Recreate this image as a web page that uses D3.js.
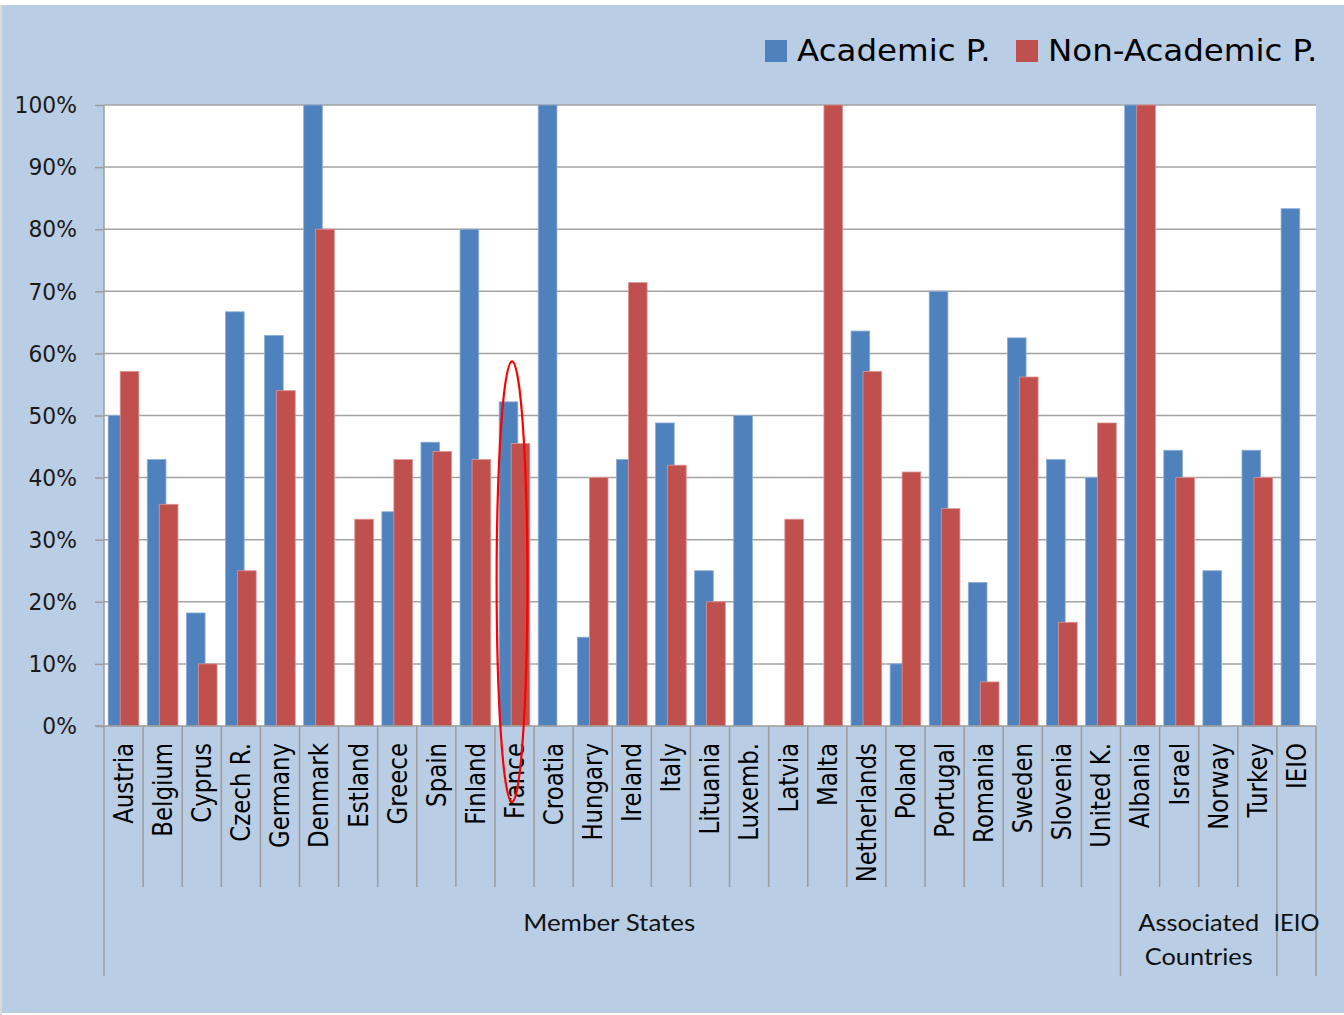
<!DOCTYPE html>
<html>
<head>
<meta charset="utf-8">
<script src="https://cdnjs.cloudflare.com/ajax/libs/d3/7.8.5/d3.min.js"></script>
<style>
  html, body { margin: 0; padding: 0; background: #ffffff; }
  svg { display: block; }
</style>
</head>
<body>
<svg id="chart" width="1344" height="1015"></svg>
<script>
// ---------- DATA ----------
const categories = ["Austria","Belgium","Cyprus","Czech R.","Germany","Denmark","Estland","Greece","Spain","Finland","France","Croatia","Hungary","Ireland","Italy","Lituania","Luxemb.","Latvia","Malta","Netherlands","Poland","Portugal","Romania","Sweden","Slovenia","United K.","Albania","Israel","Norway","Turkey","IEIO"];
const academic    = [50, 42.9, 18.2, 66.7, 62.9, 100, 0, 34.5, 45.7, 80, 52.2, 100, 14.3, 42.9, 48.8, 25, 50, 0, 0, 63.6, 10, 70, 23.1, 62.5, 42.9, 40, 100, 44.4, 25, 44.4, 83.3];
const nonAcademic = [57.1, 35.7, 10, 25, 54, 80, 33.3, 42.9, 44.2, 42.9, 45.5, 0, 40, 71.4, 42, 20, 0, 33.3, 100, 57.1, 40.9, 35, 7.1, 56.2, 16.7, 48.8, 100, 40, 0, 40, 0];
const seriesNames = ["Academic P.", "Non-Academic P."];
const groupLabels = [["Member States"], ["Associated", "Countries"], ["IEIO"]];
const groupSizes  = [26, 4, 1];
const tickValues  = [0, 10, 20, 30, 40, 50, 60, 70, 80, 90, 100];
const highlighted = "France";

// ---------- STYLE / LAYOUT ----------
const W = 1344, H = 1015;
const plot = { left: 104, right: 1316, top: 105, bottom: 726 };
const colors = { bg: "#B9CDE5", blue: "#4F81BD", red: "#C0504D", grid: "#A3A3A3", axis: "#9C9C9C" };
const FONT = "'DejaVu Sans', Verdana, sans-serif";
// rendered widths of the group label lines (text box fitting, like the original)
const groupLabelWidths = [[172], [121], [47]].map((w, i) => w);
const groupLineWidths = [[172], [121, 108], [46]];

const svg = d3.select("#chart");

// page frame
svg.append("rect").attr("x", 0).attr("y", 0).attr("width", W).attr("height", H).attr("fill", "#ffffff");
svg.append("rect").attr("x", 0).attr("y", 5).attr("width", 2).attr("height", H - 5).attr("fill", "#DADADA");
svg.append("rect").attr("x", 2).attr("y", 5).attr("width", W - 2).attr("height", H - 7).attr("fill", colors.bg);

// scales
const x = d3.scaleBand().domain(categories).range([plot.left, plot.right]).padding(0);
const y = d3.scaleLinear().domain([0, 100]).range([plot.bottom, plot.top]);
const bw = x.bandwidth();
const barW = bw * 0.478, offBlue = bw * 0.107, offRed = bw * (0.107 + 0.307);

// plot area
svg.append("rect").attr("x", plot.left).attr("y", plot.top)
  .attr("width", plot.right - plot.left).attr("height", plot.bottom - plot.top).attr("fill", "#ffffff");

// gridlines
svg.append("g").selectAll("line").data(tickValues.filter(t => t > 0)).join("line")
  .attr("x1", plot.left).attr("x2", plot.right)
  .attr("y1", d => y(d)).attr("y2", d => y(d))
  .attr("stroke", colors.grid).attr("stroke-width", 1.5);

// y axis via d3
const yAxis = d3.axisLeft(y).tickValues(tickValues).tickSize(9).tickFormat("");
const gy = svg.append("g").attr("transform", `translate(${plot.left},0)`).call(yAxis);
gy.select(".domain").remove();
gy.selectAll(".tick line").attr("stroke", colors.axis).attr("stroke-width", 1.5);

// y tick labels
svg.append("g").selectAll("text").data(tickValues).join("text")
  .attr("transform", d => `translate(77,${y(d)}) scale(0.95,1)`)
  .attr("dy", "0.36em").attr("text-anchor", "end")
  .attr("font-family", FONT).attr("font-size", 23).attr("fill", "#1a1a1a")
  .text(d => d3.format(".0%")(d / 100));

// bars
const rows = categories.map((c, i) => ({ c, a: academic[i], n: nonAcademic[i] }));
svg.append("g").selectAll("rect").data(rows.filter(r => r.a > 0)).join("rect")
  .attr("x", r => x(r.c) + offBlue).attr("width", barW)
  .attr("y", r => y(r.a)).attr("height", r => y(0) - y(r.a))
  .attr("fill", colors.blue).attr("stroke", "#8EADD6").attr("stroke-width", 0.8);
svg.append("g").selectAll("rect").data(rows.filter(r => r.n > 0)).join("rect")
  .attr("x", r => x(r.c) + offRed).attr("width", barW)
  .attr("y", r => y(r.n)).attr("height", r => y(0) - y(r.n))
  .attr("fill", colors.red).attr("stroke", "#DB9694").attr("stroke-width", 0.8);

// axes lines
svg.append("line").attr("x1", plot.left - 9).attr("x2", plot.right)
  .attr("y1", plot.bottom).attr("y2", plot.bottom).attr("stroke", colors.axis).attr("stroke-width", 1.5);

// category dividers (short) and group dividers (long)
const groupBounds = [0];
groupSizes.forEach((s, i) => groupBounds.push(groupBounds[i] + s));
const boundaryX = d3.range(categories.length + 1).map(i => plot.left + i * bw);
svg.append("g").selectAll("line").data(d3.range(categories.length + 1)).join("line")
  .attr("x1", i => boundaryX[i]).attr("x2", i => boundaryX[i])
  .attr("y1", i => (i === 0 ? plot.top : plot.bottom))
  .attr("y2", i => groupBounds.includes(i) ? 976 : 887)
  .attr("stroke", colors.axis).attr("stroke-width", 1.5);

// category labels (rotated)
svg.append("g").selectAll("text").data(categories).join("text")
  .attr("transform", c => `translate(${x(c) + bw / 2},743) scale(1,0.88) rotate(-90)`)
  .attr("dy", "0.36em").attr("text-anchor", "end")
  .attr("font-family", FONT).attr("font-size", 26).attr("fill", "#000")
  .text(c => c);

// group labels
const gl = svg.append("g");
groupLabels.forEach((lines, gi) => {
  const cx = (boundaryX[groupBounds[gi]] + boundaryX[groupBounds[gi + 1]]) / 2 - (gi === 0 ? 3 : 0);
  lines.forEach((t, li) => {
    gl.append("text").attr("x", cx).attr("y", 931 + li * 34)
      .attr("text-anchor", "middle").attr("font-family", "Lato, 'Open Sans', sans-serif")
      .attr("font-size", 24).attr("fill", "#111")
      .attr("textLength", groupLineWidths[gi][li]).attr("lengthAdjust", "spacingAndGlyphs")
      .text(t);
  });
});

// legend
const legendX = [765, 1016];
const legendColors = [colors.blue, colors.red];
const lg = svg.append("g");
seriesNames.forEach((s, i) => {
  lg.append("rect").attr("x", legendX[i]).attr("y", 40).attr("width", 22).attr("height", 22).attr("fill", legendColors[i]);
  lg.append("text").attr("transform", `translate(${legendX[i] + 32},61) scale(1.065,1)`)
    .attr("font-family", FONT).attr("font-size", 30.5).attr("fill", "#000").text(s);
});

// highlight ellipse around France
svg.append("ellipse")
  .attr("cx", x(highlighted) + bw / 2 - 2.5).attr("cy", (y(58.7) + 802) / 2)
  .attr("rx", 15.4).attr("ry", (802 - y(58.7)) / 2)
  .attr("fill", "none").attr("stroke", "#FF0000").attr("stroke-width", 2.2);
</script>
</body>
</html>
